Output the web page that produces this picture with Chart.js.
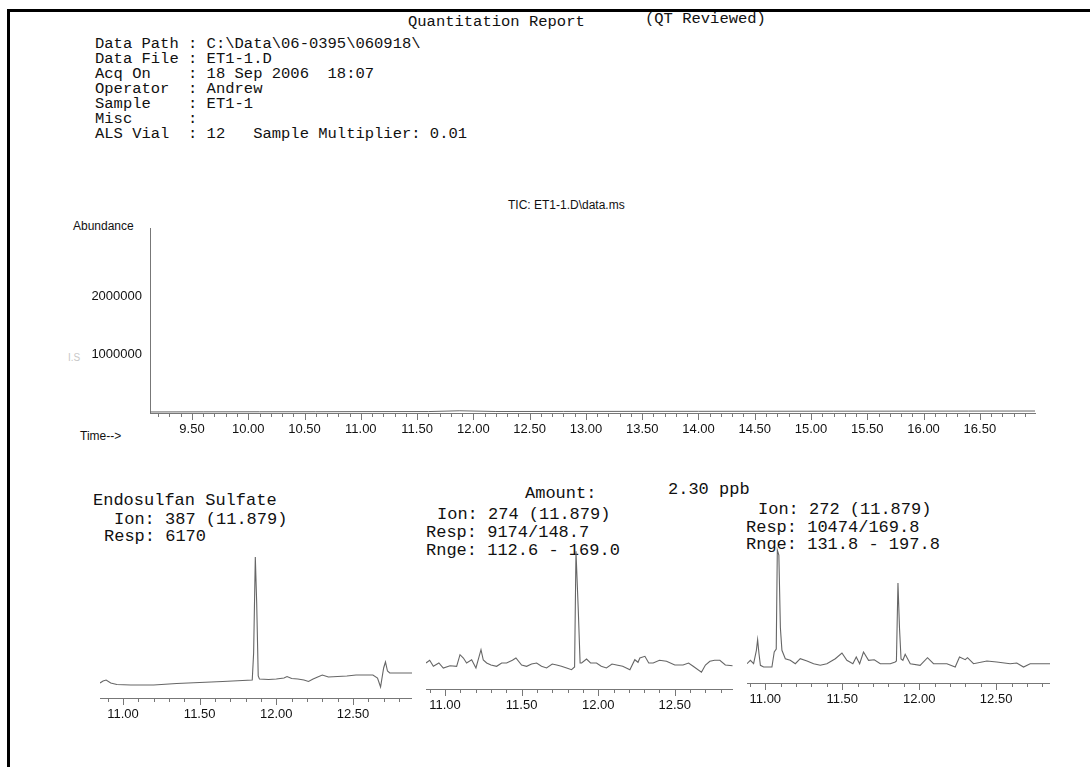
<!DOCTYPE html>
<html>
<head>
<meta charset="utf-8">
<title>Quantitation Report</title>
<script src="https://cdn.jsdelivr.net/npm/chart.js@4.4.1/dist/chart.umd.min.js"></script>
<style>
body { margin: 0; background: #fff; width: 1090px; height: 767px; position: relative; overflow: hidden; }
.frameTop { position: absolute; left: 7px; top: 9px; width: 1083px; height: 3px; background: #000; }
.frameLeft { position: absolute; left: 7px; top: 9px; width: 3px; height: 758px; background: #000; }
.mono { position: absolute; font-family: "Liberation Mono", "Courier New", monospace; color: #111; white-space: pre; }
.hdr { font-size: 15.5px; line-height: 15px; }
.big { font-size: 17px; line-height: 18px; }
.sans { position: absolute; font-family: "Liberation Sans", Arial, sans-serif; color: #111; white-space: pre; font-size: 12px; line-height: 14px; }
canvas { position: absolute; }
</style>
</head>
<body>
<div class="frameTop"></div>
<div class="frameLeft"></div>

<div class="mono hdr" style="left:408px; top:15px;">Quantitation Report</div>
<div class="mono hdr" style="left:645px; top:12px;">(QT Reviewed)</div>
<div class="mono hdr" style="left:95px; top:37px;">Data Path : C:\Data\06-0395\060918\
Data File : ET1-1.D
Acq On    : 18 Sep 2006  18:07
Operator  : Andrew
Sample    : ET1-1
Misc      :
ALS Vial  : 12   Sample Multiplier: 0.01</div>

<div class="sans" style="left:508px; top:198px;">TIC: ET1-1.D\data.ms</div>
<div class="sans" style="left:73px; top:219px;">Abundance</div>
<div class="sans" style="left:80px; top:429px;">Time--&gt;</div>
<div class="sans" style="left:68px; top:351px; color:#c8c8c8; font-size:10px;">I.S</div>

<canvas id="tic" width="985" height="215" style="left:60px; top:228px;"></canvas>

<div class="mono big" style="left:93px; top:492px;">Endosulfan Sulfate</div>
<div class="mono big" style="left:114px; top:511px;">Ion: 387 (11.879)</div>
<div class="mono big" style="left:104px; top:528px;">Resp: 6170</div>

<div class="mono big" style="left:525px; top:485px;">Amount:</div>
<div class="mono big" style="left:668px; top:481px;">2.30 ppb</div>
<div class="mono big" style="left:437px; top:506px;">Ion: 274 (11.879)</div>
<div class="mono big" style="left:426px; top:524px;">Resp: 9174/148.7</div>
<div class="mono big" style="left:426px; top:542px;">Rnge: 112.6 - 169.0</div>

<div class="mono big" style="left:758px; top:501px;">Ion: 272 (11.879)</div>
<div class="mono big" style="left:746px; top:519px;">Resp: 10474/169.8</div>
<div class="mono big" style="left:746px; top:536px;">Rnge: 131.8 - 197.8</div>

<canvas id="ion387" width="312" height="186" style="left:100px; top:540px;"></canvas>
<canvas id="ion274" width="307" height="177" style="left:426px; top:540px;"></canvas>
<canvas id="ion272" width="303" height="171" style="left:747px; top:540px;"></canvas>

<script>
// TIC (total ion chromatogram) - flat near the baseline
const ticTimes = [9.13, 9.60, 10.10, 10.60, 11.10, 11.60, 11.88, 12.20, 12.80, 13.40, 14.00, 14.60, 15.20, 15.80, 16.40, 16.99];
const ticAbundance = [18000, 20000, 21000, 22000, 24000, 25000, 38000, 26000, 27000, 28000, 29000, 30000, 31000, 32000, 33000, 34000];
const ticYTicks = [1000000, 2000000];

// extracted ion chromatograms (relative abundance)
const ion387Times = [10.85, 10.87, 10.89, 10.92, 10.96, 11.05, 11.20, 11.35, 11.50, 11.65, 11.78, 11.843, 11.852, 11.863, 11.872, 11.882, 11.89, 11.95, 12.00, 12.05, 12.07, 12.10, 12.14, 12.18, 12.21, 12.24, 12.27, 12.30, 12.34, 12.40, 12.46, 12.52, 12.58, 12.63, 12.66, 12.68, 12.70, 12.712, 12.725, 12.74, 12.80, 12.885];
const ion387Abund = [15, 17, 18, 15, 13.5, 13, 13, 14.5, 15.5, 16.5, 17.5, 18, 45, 141, 95, 22, 19, 18.5, 19, 20, 21.5, 19.5, 19, 18, 16.5, 19, 21, 23, 21, 21.5, 22, 23, 23, 23, 20, 11, 30, 36, 27, 25, 25, 25];

const ion274Times = [10.876, 10.90, 10.924, 10.96, 10.989, 11.033, 11.076, 11.098, 11.12, 11.141, 11.174, 11.202, 11.235, 11.25, 11.272, 11.30, 11.337, 11.37, 11.402, 11.44, 11.463, 11.50, 11.533, 11.565, 11.598, 11.63, 11.663, 11.70, 11.729, 11.76, 11.794, 11.826, 11.846, 11.855, 11.870, 11.882, 11.892, 11.924, 11.95, 11.989, 12.02, 12.054, 12.09, 12.12, 12.16, 12.207, 12.239, 12.26, 12.272, 12.305, 12.33, 12.359, 12.40, 12.446, 12.50, 12.554, 12.59, 12.62, 12.674, 12.70, 12.729, 12.76, 12.794, 12.83, 12.877];
const ion274Abund = [26, 28.7, 22.7, 26, 21, 23.3, 22.7, 34.3, 31, 26, 29.3, 21, 39.3, 29, 26, 24, 22.7, 26, 26, 28.7, 31, 24, 22.7, 25, 26, 22.7, 21, 25, 24, 22.7, 21, 19.3, 22, 137.7, 79, 26, 26, 30, 26, 26, 22.7, 21, 25, 24, 22.7, 19.3, 29.3, 26.7, 31, 32.7, 26, 26, 28.7, 27.7, 24, 24, 26, 22.7, 16.7, 24, 27.7, 28.7, 28.7, 24, 23.3];

const ion272Times = [10.881, 10.903, 10.924, 10.942, 10.950, 10.959, 10.968, 10.989, 11.043, 11.058, 11.071, 11.078, 11.088, 11.098, 11.108, 11.130, 11.162, 11.195, 11.227, 11.271, 11.314, 11.357, 11.400, 11.455, 11.498, 11.530, 11.569, 11.591, 11.613, 11.638, 11.671, 11.708, 11.747, 11.812, 11.844, 11.852, 11.862, 11.872, 11.882, 11.894, 11.909, 11.942, 12.006, 12.054, 12.093, 12.180, 12.234, 12.262, 12.299, 12.314, 12.353, 12.440, 12.504, 12.591, 12.634, 12.678, 12.721, 12.85];
const ion272Abund = [19.3, 22.7, 19.3, 32.7, 43.3, 29.3, 17.7, 16, 16, 31, 34, 133, 128, 55, 32.7, 24.3, 22.7, 19.3, 24.3, 22, 19.3, 17.7, 19.3, 24.3, 30, 22.7, 19.3, 26, 19.3, 31, 22.7, 23.3, 19.3, 19.3, 21, 22, 100, 55, 24, 22.7, 28.7, 19.3, 17.7, 25.3, 19.3, 19.3, 16, 26, 23.3, 25.3, 19.3, 22, 21, 19.3, 20, 16, 19.3, 19.3];

const axisColor = "#777";
const traceColor = "#666";
const tickFont = { family: "'Liberation Sans', Arial, sans-serif", size: 13 };

// minor ticks every 0.1 min, longer ones every 0.5 min, hanging below the axis
const minuteTicks = {
    id: "minuteTicks",
    afterDraw(chart) {
        const sc = chart.scales.x;
        const ctx = chart.ctx;
        ctx.save();
        ctx.strokeStyle = axisColor;
        ctx.lineWidth = 1;
        for (let k = Math.ceil(sc.min * 10); k <= Math.floor(sc.max * 10); k++) {
            const px = Math.round(sc.getPixelForValue(k / 10)) + 0.5;
            const len = k % 5 === 0 ? 7 : 4;
            ctx.beginPath();
            ctx.moveTo(px, sc.top);
            ctx.lineTo(px, sc.top + len);
            ctx.stroke();
        }
        ctx.restore();
    }
};

function halfMinuteLabel(v) {
    const twice = v * 2;
    return Math.abs(twice - Math.round(twice)) < 1e-6 ? v.toFixed(2) : "";
}

function toPoints(xs, ys) {
    let pts = [];
    for (let i = 0; i < xs.length; i++) {
        pts.push({ x: xs[i], y: ys[i] });
    }
    return pts;
}

function timeAxis(xMin, xMax, h) {
    return {
        type: "linear",
        min: xMin,
        max: xMax,
        grid: { display: false, drawTicks: false },
        border: { display: true, color: axisColor, width: 1 },
        ticks: {
            stepSize: 0.1,
            autoSkip: false,
            maxRotation: 0,
            padding: 9,
            color: "#111",
            font: tickFont,
            callback: halfMinuteLabel
        },
        afterFit(scale) {
            scale.height = h;
            scale.paddingLeft = 0;
            scale.paddingRight = 0;
        }
    };
}

new Chart(document.getElementById("tic"), {
    type: "line",
    data: {
        datasets: [{
            data: toPoints(ticTimes, ticAbundance),
            borderColor: traceColor,
            borderWidth: 1,
            pointRadius: 0,
            tension: 0
        }]
    },
    options: {
        responsive: false,
        animation: false,
        layout: { padding: { right: 10 } },
        plugins: { legend: { display: false }, tooltip: { enabled: false } },
        scales: {
            x: timeAxis(9.127, 16.99, 30),
            y: {
                type: "linear",
                min: 0,
                max: 3185000,
                grid: { display: false, drawTicks: false },
                border: { display: true, color: axisColor, width: 1 },
                afterBuildTicks(scale) {
                    scale.ticks = ticYTicks.map(v => ({ value: v }));
                },
                ticks: {
                    autoSkip: false,
                    padding: 8,
                    color: "#111",
                    font: tickFont,
                    callback: (v) => String(v)
                },
                afterFit(scale) {
                    scale.width = 90;
                    scale.paddingTop = 0;
                    scale.paddingBottom = 0;
                }
            }
        }
    },
    plugins: [minuteTicks]
});

function ionChart(id, xs, ys, xMin, xMax, yMax) {
    new Chart(document.getElementById(id), {
        type: "line",
        data: {
            datasets: [{
                data: toPoints(xs, ys),
                borderColor: traceColor,
                borderWidth: 1.1,
                pointRadius: 0,
                tension: 0
            }]
        },
        options: {
            responsive: false,
            animation: false,
            layout: { padding: 0 },
            plugins: { legend: { display: false }, tooltip: { enabled: false } },
            scales: {
                x: timeAxis(xMin, xMax, 28),
                y: { display: false, min: 0, max: yMax }
            }
        },
        plugins: [minuteTicks]
    });
}

ionChart("ion387", ion387Times, ion387Abund, 10.85, 12.885, 158);
ionChart("ion274", ion274Times, ion274Abund, 10.876, 12.88, 149);
ionChart("ion272", ion272Times, ion272Abund, 10.881, 12.85, 143);
</script>
</body>
</html>
